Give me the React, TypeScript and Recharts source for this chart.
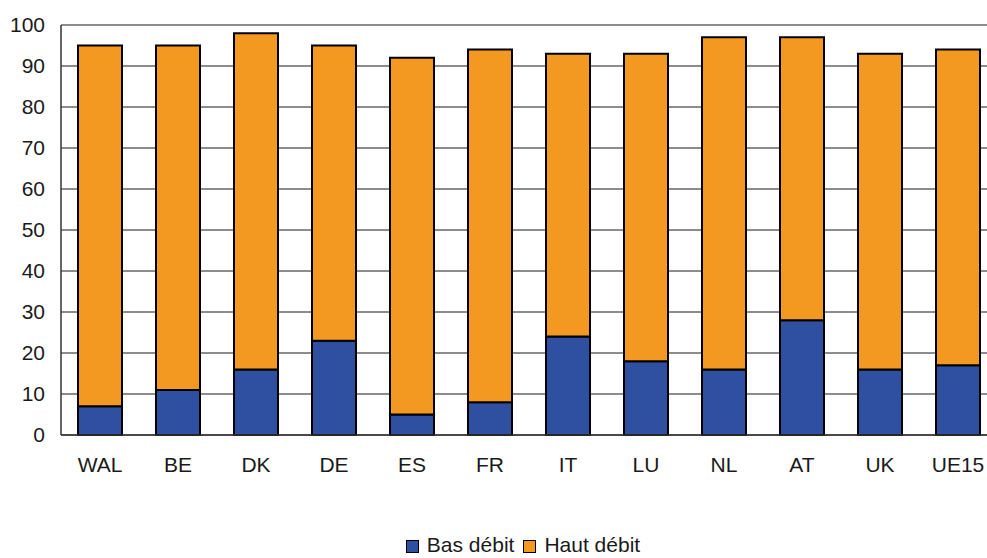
import { BarChart, Bar, XAxis, YAxis, CartesianGrid, Legend } from 'recharts';

const countries = ['WAL', 'BE', 'DK', 'DE', 'ES', 'FR', 'IT', 'LU', 'NL', 'AT', 'UK', 'UE15'];
const basDebit = [7, 11, 16, 23, 5, 8, 24, 18, 16, 28, 16, 17];
const hautDebit = [88, 84, 82, 72, 87, 86, 69, 75, 81, 69, 77, 77];
const yTicks = [0, 10, 20, 30, 40, 50, 60, 70, 80, 90, 100];

const BLUE = '#2f4fa0';
const ORANGE = '#f39820';
const FONT = '"Liberation Sans", Arial, sans-serif';

const data = countries.map((c, i) => ({
  country: c,
  bas: basDebit[i],
  haut: hautDebit[i],
}));

const legendItems = [
  { label: 'Bas débit', color: BLUE },
  { label: 'Haut débit', color: ORANGE },
];

function LegendContent() {
  return (
    <div
      style={{
        display: 'flex',
        justifyContent: 'center',
        alignItems: 'center',
        height: 20,
        lineHeight: '20px',
        fontFamily: FONT,
        fontSize: 21,
        color: '#1a1a1a',
        paddingLeft: 68,
      }}
    >
      {legendItems.map((item) => (
        <span key={item.label} style={{ display: 'flex', alignItems: 'center', marginRight: 9 }}>
          <span
            style={{
              display: 'inline-block',
              width: 11,
              height: 11,
              background: item.color,
              border: '1px solid #000',
              marginRight: 8,
              marginTop: 3,
            }}
          />
          {item.label}
        </span>
      ))}
    </div>
  );
}

export default function App() {
  return (
    <div
      style={{
        position: 'absolute',
        left: 0,
        top: 0,
        width: 987,
        height: 558,
        overflow: 'hidden',
        background: '#fff',
      }}
    >
      <BarChart
        width={1000}
        height={558}
        data={data}
        margin={{ top: 25, right: 3, left: 0, bottom: 53 }}
        barSize={44}
      >
        <CartesianGrid vertical={false} stroke="#1a1a1a" strokeWidth={1} />
        <XAxis
          dataKey="country"
          height={50}
          tickLine={false}
          tickSize={0}
          tickMargin={22}
          axisLine={{ stroke: '#333', strokeWidth: 1.5 }}
          tick={{ fill: '#1a1a1a', fontSize: 21, fontFamily: FONT }}
          interval={0}
        />
        <YAxis
          width={61}
          domain={[0, 100]}
          ticks={yTicks}
          interval={0}
          tickLine={false}
          tickSize={0}
          tickMargin={16}
          axisLine={{ stroke: '#333', strokeWidth: 1.5 }}
          tick={{ fill: '#1a1a1a', fontSize: 21, fontFamily: FONT }}
        />
        <Legend
          verticalAlign="bottom"
          content={<LegendContent />}
          wrapperStyle={{ top: 535, left: 0, width: 987, height: 20, bottom: 'auto' }}
        />
        <Bar
          dataKey="bas"
          name="Bas débit"
          stackId="a"
          fill={BLUE}
          stroke="#000"
          strokeWidth={2}
          isAnimationActive={false}
        />
        <Bar
          dataKey="haut"
          name="Haut débit"
          stackId="a"
          fill={ORANGE}
          stroke="#000"
          strokeWidth={2}
          isAnimationActive={false}
        />
      </BarChart>
    </div>
  );
}
